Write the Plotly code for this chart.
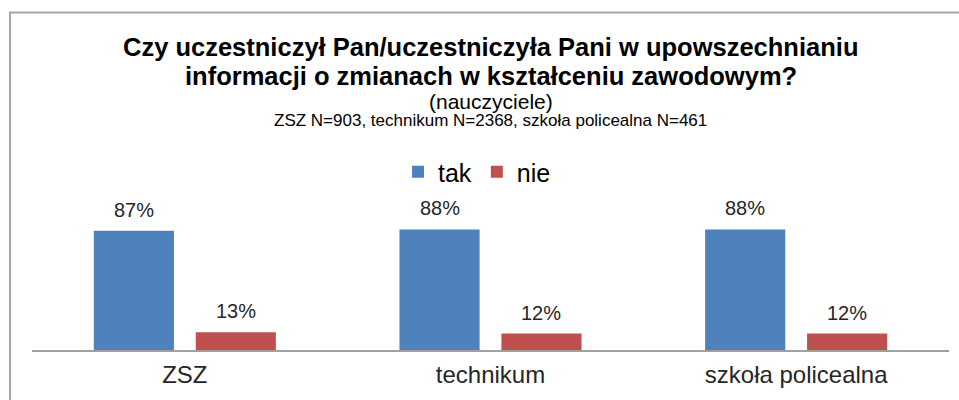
import plotly.graph_objects as go

# Survey answers (share of teachers) by school type
categories = ["ZSZ", "technikum", "szkoła policealna"]
tak_values = [0.87, 0.88, 0.88]
nie_values = [0.13, 0.12, 0.12]
series_names = ["tak", "nie"]
series_colors = ["#4F81BD", "#C0504D"]

title_lines = [
    "Czy uczestniczył Pan/uczestniczyła Pani w upowszechnianiu",
    "informacji o zmianach w kształceniu zawodowym?",
]
subtitle = "(nauczyciele)"
sample_note = "ZSZ N=903, technikum N=2368, szkoła policealna N=461"

FONT = "Liberation Sans, Arial, sans-serif"
W, H = 959, 400
M_L, M_R, M_T, M_B = 32, 10, 213, 50
plot_h = H - M_T - M_B


def py(pix):
    """Pixel row -> paper y coordinate."""
    return (H - M_B - pix) / plot_h


def px(pix):
    """Pixel column -> paper x coordinate."""
    return (pix - M_L) / (W - M_L - M_R)


x_pos = list(range(len(categories)))

fig = go.Figure()
for name, vals, color in zip(series_names, [tak_values, nie_values], series_colors):
    fig.add_trace(go.Bar(
        x=x_pos, y=vals, name=name,
        marker=dict(color=color, line=dict(width=0)),
        hoverinfo="skip",
    ))

# value labels above each bar
group_offsets = [-1 / 6, 1 / 6]
annotations = []
for off, vals in zip(group_offsets, [tak_values, nie_values]):
    for i, v in enumerate(vals):
        annotations.append(dict(
            x=i + off, y=v, xref="x", yref="y",
            text=f"{round(v * 100)}%", showarrow=False,
            yanchor="bottom", yshift=8,
            font=dict(family=FONT, size=20, color="#262626"),
        ))

# title block
annotations += [
    dict(x=0.5, y=py(47), xref="paper", yref="paper", text=f"<b>{title_lines[0]}</b>",
         showarrow=False, yanchor="middle", font=dict(family=FONT, size=25.5, color="#000000")),
    dict(x=0.5, y=py(76), xref="paper", yref="paper", text=f"<b>{title_lines[1]}</b>",
         showarrow=False, yanchor="middle", font=dict(family=FONT, size=25.5, color="#000000")),
    dict(x=0.5, y=py(101), xref="paper", yref="paper", text=subtitle,
         showarrow=False, yanchor="middle", font=dict(family=FONT, size=21, color="#000000")),
    dict(x=0.5, y=py(121), xref="paper", yref="paper", text=sample_note,
         showarrow=False, yanchor="middle", font=dict(family=FONT, size=17, color="#000000")),
]

# chart-area frame (left and top edges visible)
frame = dict(
    type="path", xref="paper", yref="paper",
    path=f"M {px(10)} {py(430)} L {px(10)} {py(12.5)} L {px(990)} {py(12.5)}",
    line=dict(color="#A6A6A6", width=2),
)

fig.update_layout(
    width=W, height=H,
    margin=dict(l=M_L, r=M_R, t=M_T, b=M_B, pad=0, autoexpand=False),
    paper_bgcolor="white", plot_bgcolor="white",
    barmode="group", bargap=0.333, bargroupgap=0.214,
    showlegend=True,
    legend=dict(
        orientation="h", x=px(477), xanchor="center", y=py(172), yanchor="middle",
        font=dict(family=FONT, size=25, color="#000000"),
        itemwidth=30, bgcolor="rgba(0,0,0,0)",
    ),
    xaxis=dict(
        range=[-0.5, len(categories) - 0.5],
        tickvals=x_pos, ticktext=categories,
        showline=True, linecolor="#A0A0A0", linewidth=2,
        showgrid=False, zeroline=False, ticks="",
        ticklabelstandoff=2, automargin=False,
        tickfont=dict(family=FONT, size=24, color="#262626"),
        fixedrange=True,
    ),
    yaxis=dict(range=[0, 1], visible=False, fixedrange=True, automargin=False),
    annotations=annotations,
    shapes=[frame],
)

fig.write_html("out.html")
